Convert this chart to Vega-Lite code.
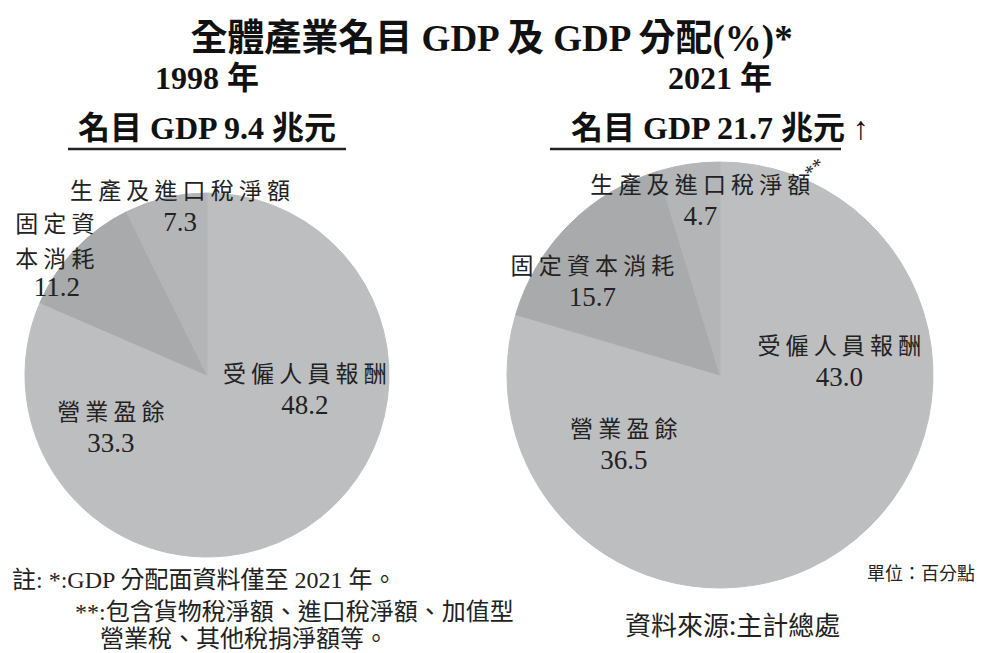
{
  "$schema": "https://vega.github.io/schema/vega-lite/v6.json",
  "padding": {"left": 0, "top": 20, "right": 0, "bottom": 0},
  "background": "white",
  "bounds": "flush",
  "config": {
    "view": {"stroke": null},
    "concat": {"spacing": 91},
    "text": {"color": "#222222"}
  },
  "title": {
    "text": "全體產業名目 GDP 及 GDP 分配(%)*",
    "font": "Liberation Serif, Noto Sans CJK TC",
    "fontSize": 37,
    "fontWeight": "bold",
    "color": "#111111",
    "anchor": "middle",
    "dx": 4,
    "offset": 4
  },
  "datasets": {
    "gdp": [
      {"year": "1998", "cat": "受僱人員報酬", "label": "受 僱 人 員 報 酬", "value": 48.2, "ord": 1},
      {"year": "1998", "cat": "營業盈餘", "label": "營 業 盈 餘", "value": 33.3, "ord": 2},
      {"year": "1998", "cat": "固定資本消耗", "label": "固 定 資\n本 消 耗", "value": 11.2, "ord": 3},
      {"year": "1998", "cat": "生產及進口稅淨額", "label": "生 產 及 進 口 稅 淨 額", "value": 7.3, "ord": 4},
      {"year": "2021", "cat": "受僱人員報酬", "label": "受 僱 人 員 報 酬", "value": 43.0, "ord": 1},
      {"year": "2021", "cat": "營業盈餘", "label": "營 業 盈 餘", "value": 36.5, "ord": 2},
      {"year": "2021", "cat": "固定資本消耗", "label": "固 定 資 本 消 耗", "value": 15.7, "ord": 3},
      {"year": "2021", "cat": "生產及進口稅淨額", "label": "生 產 及 進 口 稅 淨 額", "value": 4.7, "ord": 4}
    ]
  },
  "hconcat": [
    {
      "width": 414,
      "height": 440,
      "data": {"name": "gdp"},
      "transform": [{"filter": "datum.year == '1998'"}],
      "title": {
        "text": "1998 年",
        "subtitle": "名目 GDP 9.4 兆元",
        "font": "Liberation Serif, Noto Sans CJK TC",
        "subtitleFont": "Liberation Serif, Noto Sans CJK TC",
        "fontSize": 32,
        "subtitleFontSize": 32,
        "fontWeight": "bold",
        "subtitleFontWeight": "bold",
        "color": "#111111",
        "subtitleColor": "#111111",
        "subtitlePadding": 18,
        "anchor": "middle",
        "offset": 2
      },
      "layer": [
        {
          "mark": {"type": "arc", "outerRadius": 182, "strokeWidth": 1},
          "encoding": {
            "theta": {"field": "value", "type": "quantitative", "stack": true},
            "order": {"field": "ord", "type": "quantitative"},
            "color": {
              "field": "cat", "type": "nominal", "legend": null,
              "scale": {
                "domain": ["受僱人員報酬", "營業盈餘", "固定資本消耗", "生產及進口稅淨額"],
                "range": ["#bdbec0", "#bdbec0", "#a9aaac", "#b4b5b7"]
              }
            },
            "stroke": {
              "field": "cat", "type": "nominal", "legend": null,
              "scale": {
                "domain": ["受僱人員報酬", "營業盈餘", "固定資本消耗", "生產及進口稅淨額"],
                "range": ["#bdbec0", "#bdbec0", "#a9aaac", "#b4b5b7"]
              }
            }
          }
        },
        {
          "mark": {
            "type": "text", "font": "Noto Sans CJK TC", "fontSize": 23, "baseline": "bottom",
            "lineBreak": "\n", "lineHeight": 35,
            "dy": {"expr": "datum.ord == 3 ? -38 : -3"},
            "radius": {"expr": "datum.ord == 1 ? 99 : datum.ord == 2 ? 110 : datum.ord == 3 ? 182 : 170"},
            "thetaOffset": {"expr": "datum.ord == 1 ? 0.21 : datum.ord == 2 ? 0.13 : datum.ord == 3 ? -0.18 : 0.07"}
          },
          "encoding": {
            "theta": {"field": "value", "type": "quantitative", "stack": true},
            "order": {"field": "ord", "type": "quantitative"},
            "text": {"field": "label"}
          }
        },
        {
          "mark": {
            "type": "text", "font": "Liberation Serif", "fontSize": 27, "baseline": "top", "dy": 3,
            "radius": {"expr": "datum.ord == 1 ? 99 : datum.ord == 2 ? 110 : datum.ord == 3 ? 182 : 170"},
            "thetaOffset": {"expr": "datum.ord == 1 ? 0.21 : datum.ord == 2 ? 0.13 : datum.ord == 3 ? -0.16 : 0.07"}
          },
          "encoding": {
            "theta": {"field": "value", "type": "quantitative", "stack": true},
            "order": {"field": "ord", "type": "quantitative"},
            "text": {"field": "value", "type": "quantitative", "format": ".1f"}
          }
        },
        {
          "data": {"values": [{"note": "underline"}]},
          "mark": {"type": "rule", "strokeWidth": 2.5, "color": "#222222"},
          "encoding": {"x": {"value": 68}, "x2": {"value": 346}, "y": {"value": -6}}
        },
        {
          "data": {"values": [
            {"note": "註: *:GDP 分配面資料僅至 2021 年。", "line": 1},
            {"note": "**:包含貨物稅淨額、進口稅淨額、加值型", "line": 2},
            {"note": "營業稅、其他稅捐淨額等。", "line": 3}
          ]},
          "mark": {
            "type": "text", "font": "Liberation Serif, Noto Sans CJK TC", "fontSize": 24, "align": "left", "baseline": "middle",
            "x": {"expr": "datum.line == 1 ? 12 : datum.line == 2 ? 75 : 100"},
            "y": {"expr": "datum.line == 1 ? 426 : datum.line == 2 ? 458 : 485"}
          },
          "encoding": {"text": {"field": "note"}}
        }
      ]
    },
    {
      "width": 430,
      "height": 440,
      "data": {"name": "gdp"},
      "transform": [{"filter": "datum.year == '2021'"}],
      "title": {
        "text": "2021 年",
        "subtitle": "名目 GDP 21.7 兆元 ↑",
        "font": "Liberation Serif, Noto Sans CJK TC",
        "subtitleFont": "Liberation Serif, Noto Sans CJK TC",
        "fontSize": 32,
        "subtitleFontSize": 32,
        "fontWeight": "bold",
        "subtitleFontWeight": "bold",
        "color": "#111111",
        "subtitleColor": "#111111",
        "subtitlePadding": 18,
        "anchor": "middle",
        "offset": 2
      },
      "layer": [
        {
          "mark": {"type": "arc", "outerRadius": 213, "strokeWidth": 1},
          "encoding": {
            "theta": {"field": "value", "type": "quantitative", "stack": true},
            "order": {"field": "ord", "type": "quantitative"},
            "color": {
              "field": "cat", "type": "nominal", "legend": null,
              "scale": {
                "domain": ["受僱人員報酬", "營業盈餘", "固定資本消耗", "生產及進口稅淨額"],
                "range": ["#bdbec0", "#bdbec0", "#a9aaac", "#b4b5b7"]
              }
            },
            "stroke": {
              "field": "cat", "type": "nominal", "legend": null,
              "scale": {
                "domain": ["受僱人員報酬", "營業盈餘", "固定資本消耗", "生產及進口稅淨額"],
                "range": ["#bdbec0", "#bdbec0", "#a9aaac", "#b4b5b7"]
              }
            }
          }
        },
        {
          "mark": {
            "type": "text", "font": "Noto Sans CJK TC", "fontSize": 23, "baseline": "bottom",
            "lineBreak": "\n", "lineHeight": 35, "dy": -3,
            "radius": {"expr": "datum.ord == 1 ? 120 : datum.ord == 2 ? 119 : datum.ord == 3 ? 158 : 175"},
            "thetaOffset": {"expr": "datum.ord == 1 ? 0.11 : datum.ord == 2 ? 0.23 : datum.ord == 3 ? -0.15 : 0.035"}
          },
          "encoding": {
            "theta": {"field": "value", "type": "quantitative", "stack": true},
            "order": {"field": "ord", "type": "quantitative"},
            "text": {"field": "label"}
          }
        },
        {
          "mark": {
            "type": "text", "font": "Liberation Serif", "fontSize": 27, "baseline": "top", "dy": 3,
            "radius": {"expr": "datum.ord == 1 ? 120 : datum.ord == 2 ? 119 : datum.ord == 3 ? 158 : 175"},
            "thetaOffset": {"expr": "datum.ord == 1 ? 0.11 : datum.ord == 2 ? 0.23 : datum.ord == 3 ? -0.15 : 0.035"}
          },
          "encoding": {
            "theta": {"field": "value", "type": "quantitative", "stack": true},
            "order": {"field": "ord", "type": "quantitative"},
            "text": {"field": "value", "type": "quantitative", "format": ".1f"}
          }
        },
        {
          "data": {"values": [{"note": "**"}]},
          "mark": {"type": "text", "font": "Liberation Serif", "fontSize": 20, "angle": -40, "x": 310, "y": 14},
          "encoding": {"text": {"field": "note"}}
        },
        {
          "data": {"values": [{"note": "underline"}]},
          "mark": {"type": "rule", "strokeWidth": 2.5, "color": "#222222"},
          "encoding": {"x": {"value": 45}, "x2": {"value": 336}, "y": {"value": -6}}
        },
        {
          "data": {"values": [{"note": "單位：百分點", "line": 1}]},
          "mark": {"type": "text", "font": "Noto Sans CJK TC", "fontSize": 18, "align": "right", "baseline": "middle", "x": 470, "y": 420},
          "encoding": {"text": {"field": "note"}}
        },
        {
          "data": {"values": [{"note": "資料來源:主計總處", "line": 2}]},
          "mark": {"type": "text", "font": "Noto Sans CJK TC", "fontSize": 26, "align": "left", "baseline": "middle", "x": 120, "y": 472},
          "encoding": {"text": {"field": "note"}}
        }
      ]
    }
  ]
}
